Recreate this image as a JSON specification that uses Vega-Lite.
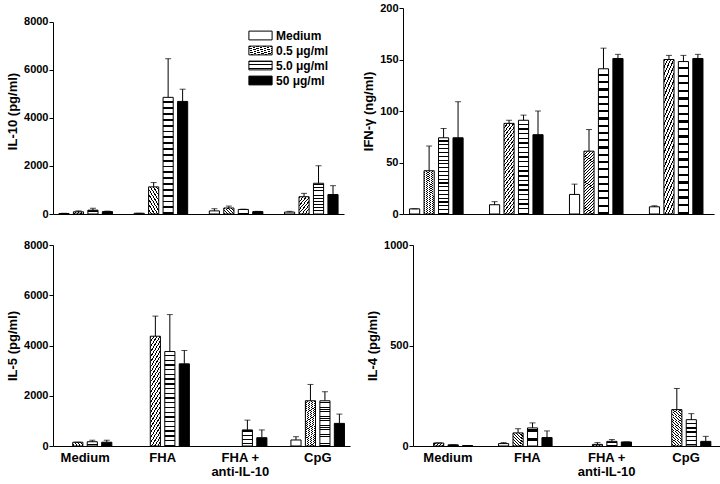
{
  "$schema": "https://vega.github.io/schema/vega-lite/v6.json",
  "padding": {"left": 6, "top": 2, "right": 0, "bottom": 0},
  "background": "white",
  "data": {"values": [
    {"panel":"IL-10","group":"Medium","conc":"Medium","value":20,"upper":30},
    {"panel":"IL-10","group":"Medium","conc":"0.5 μg/ml","value":90,"upper":130},
    {"panel":"IL-10","group":"Medium","conc":"5.0 μg/ml","value":160,"upper":240},
    {"panel":"IL-10","group":"Medium","conc":"50 μg/ml","value":100,"upper":120},
    {"panel":"IL-10","group":"FHA","conc":"Medium","value":30,"upper":30},
    {"panel":"IL-10","group":"FHA","conc":"0.5 μg/ml","value":1130,"upper":1310},
    {"panel":"IL-10","group":"FHA","conc":"5.0 μg/ml","value":4860,"upper":6470},
    {"panel":"IL-10","group":"FHA","conc":"50 μg/ml","value":4690,"upper":5200},
    {"panel":"IL-10","group":"FHA + anti-IL-10","conc":"Medium","value":130,"upper":220},
    {"panel":"IL-10","group":"FHA + anti-IL-10","conc":"0.5 μg/ml","value":250,"upper":330},
    {"panel":"IL-10","group":"FHA + anti-IL-10","conc":"5.0 μg/ml","value":190,"upper":200},
    {"panel":"IL-10","group":"FHA + anti-IL-10","conc":"50 μg/ml","value":100,"upper":110},
    {"panel":"IL-10","group":"CpG","conc":"Medium","value":80,"upper":110},
    {"panel":"IL-10","group":"CpG","conc":"0.5 μg/ml","value":720,"upper":860},
    {"panel":"IL-10","group":"CpG","conc":"5.0 μg/ml","value":1280,"upper":2010},
    {"panel":"IL-10","group":"CpG","conc":"50 μg/ml","value":810,"upper":1180},

    {"panel":"IFN","group":"Medium","conc":"Medium","value":5,"upper":5},
    {"panel":"IFN","group":"Medium","conc":"0.5 μg/ml","value":42,"upper":66},
    {"panel":"IFN","group":"Medium","conc":"5.0 μg/ml","value":74,"upper":83},
    {"panel":"IFN","group":"Medium","conc":"50 μg/ml","value":74,"upper":109},
    {"panel":"IFN","group":"FHA","conc":"Medium","value":9,"upper":12},
    {"panel":"IFN","group":"FHA","conc":"0.5 μg/ml","value":88,"upper":91},
    {"panel":"IFN","group":"FHA","conc":"5.0 μg/ml","value":91,"upper":96},
    {"panel":"IFN","group":"FHA","conc":"50 μg/ml","value":77,"upper":100},
    {"panel":"IFN","group":"FHA + anti-IL-10","conc":"Medium","value":19,"upper":29},
    {"panel":"IFN","group":"FHA + anti-IL-10","conc":"0.5 μg/ml","value":61,"upper":82},
    {"panel":"IFN","group":"FHA + anti-IL-10","conc":"5.0 μg/ml","value":141,"upper":161},
    {"panel":"IFN","group":"FHA + anti-IL-10","conc":"50 μg/ml","value":151,"upper":155},
    {"panel":"IFN","group":"CpG","conc":"Medium","value":7,"upper":8},
    {"panel":"IFN","group":"CpG","conc":"0.5 μg/ml","value":150,"upper":154},
    {"panel":"IFN","group":"CpG","conc":"5.0 μg/ml","value":148,"upper":154},
    {"panel":"IFN","group":"CpG","conc":"50 μg/ml","value":151,"upper":155},

    {"panel":"IL-5","group":"Medium","conc":"0.5 μg/ml","value":150,"upper":150},
    {"panel":"IL-5","group":"Medium","conc":"5.0 μg/ml","value":170,"upper":230},
    {"panel":"IL-5","group":"Medium","conc":"50 μg/ml","value":150,"upper":230},
    {"panel":"IL-5","group":"FHA","conc":"0.5 μg/ml","value":4370,"upper":5170},
    {"panel":"IL-5","group":"FHA","conc":"5.0 μg/ml","value":3760,"upper":5230},
    {"panel":"IL-5","group":"FHA","conc":"50 μg/ml","value":3270,"upper":3800},
    {"panel":"IL-5","group":"FHA + anti-IL-10","conc":"5.0 μg/ml","value":640,"upper":1030},
    {"panel":"IL-5","group":"FHA + anti-IL-10","conc":"50 μg/ml","value":330,"upper":640},
    {"panel":"IL-5","group":"CpG","conc":"Medium","value":240,"upper":370},
    {"panel":"IL-5","group":"CpG","conc":"0.5 μg/ml","value":1800,"upper":2450},
    {"panel":"IL-5","group":"CpG","conc":"5.0 μg/ml","value":1800,"upper":2160},
    {"panel":"IL-5","group":"CpG","conc":"50 μg/ml","value":900,"upper":1270},

    {"panel":"IL-4","group":"Medium","conc":"0.5 μg/ml","value":15,"upper":15},
    {"panel":"IL-4","group":"Medium","conc":"5.0 μg/ml","value":6,"upper":6},
    {"panel":"IL-4","group":"Medium","conc":"50 μg/ml","value":2,"upper":2},
    {"panel":"IL-4","group":"FHA","conc":"Medium","value":12,"upper":17},
    {"panel":"IL-4","group":"FHA","conc":"0.5 μg/ml","value":65,"upper":86},
    {"panel":"IL-4","group":"FHA","conc":"5.0 μg/ml","value":90,"upper":115},
    {"panel":"IL-4","group":"FHA","conc":"50 μg/ml","value":42,"upper":75},
    {"panel":"IL-4","group":"FHA + anti-IL-10","conc":"0.5 μg/ml","value":8,"upper":17},
    {"panel":"IL-4","group":"FHA + anti-IL-10","conc":"5.0 μg/ml","value":23,"upper":32},
    {"panel":"IL-4","group":"FHA + anti-IL-10","conc":"50 μg/ml","value":20,"upper":20},
    {"panel":"IL-4","group":"CpG","conc":"0.5 μg/ml","value":181,"upper":286},
    {"panel":"IL-4","group":"CpG","conc":"5.0 μg/ml","value":131,"upper":161},
    {"panel":"IL-4","group":"CpG","conc":"50 μg/ml","value":23,"upper":48}
  ]},
  "vconcat": [
    {
      "spacing": 18,
      "hconcat": [
        {
          "width": 291, "height": 206,
          "transform": [{"filter": "datum.panel === 'IL-10'"}],
          "encoding": {
            "x": {"field": "group", "type": "nominal", "scale": {"domain": ["Medium","FHA","FHA + anti-IL-10","CpG"], "paddingInner": 0.23, "paddingOuter": 0.05}, "axis": {"title": null, "labels": false, "ticks": false}},
            "xOffset": {"field": "conc", "type": "nominal", "scale": {"domain": ["Medium","0.5 μg/ml","5.0 μg/ml","50 μg/ml"], "paddingInner": 0.3, "paddingOuter": 0.15}}
          },
          "layer": [
            {
              "mark": {"type": "bar", "stroke": "#000", "strokeWidth": 1},
              "encoding": {
                "y": {"field": "value", "type": "quantitative", "title": "IL-10 (pg/ml)", "scale": {"domain": [0, 8583], "nice": false}, "axis": {"title": "IL-10 (pg/ml)", "format": "d", "values": [0,2000,4000,6000,8000], "domainDash": [192, 40]}},
                "fill": {"field": "conc", "type": "nominal",
                  "scale": {"domain": ["Medium","0.5 μg/ml","5.0 μg/ml","50 μg/ml"],
                    "range": ["#fff",
                      {"expr": "{gradient: 'linear', x1: 0, y1: 0, x2: 0.169, y2: 1.124, stops: [{offset:0,color:'#000'},{offset:0.014,color:'#000'},{offset:0.014,color:'#fff'},{offset:0.04,color:'#fff'},{offset:0.04,color:'#000'},{offset:0.054,color:'#000'},{offset:0.054,color:'#fff'},{offset:0.08,color:'#fff'},{offset:0.08,color:'#000'},{offset:0.094,color:'#000'},{offset:0.094,color:'#fff'},{offset:0.12,color:'#fff'},{offset:0.12,color:'#000'},{offset:0.134,color:'#000'},{offset:0.134,color:'#fff'},{offset:0.16,color:'#fff'},{offset:0.16,color:'#000'},{offset:0.174,color:'#000'},{offset:0.174,color:'#fff'},{offset:0.2,color:'#fff'},{offset:0.2,color:'#000'},{offset:0.214,color:'#000'},{offset:0.214,color:'#fff'},{offset:0.24,color:'#fff'},{offset:0.24,color:'#000'},{offset:0.254,color:'#000'},{offset:0.254,color:'#fff'},{offset:0.28,color:'#fff'},{offset:0.28,color:'#000'},{offset:0.294,color:'#000'},{offset:0.294,color:'#fff'},{offset:0.32,color:'#fff'},{offset:0.32,color:'#000'},{offset:0.334,color:'#000'},{offset:0.334,color:'#fff'},{offset:0.36,color:'#fff'},{offset:0.36,color:'#000'},{offset:0.374,color:'#000'},{offset:0.374,color:'#fff'},{offset:0.4,color:'#fff'},{offset:0.4,color:'#000'},{offset:0.414,color:'#000'},{offset:0.414,color:'#fff'},{offset:0.44,color:'#fff'},{offset:0.44,color:'#000'},{offset:0.454,color:'#000'},{offset:0.454,color:'#fff'},{offset:0.48,color:'#fff'},{offset:0.48,color:'#000'},{offset:0.494,color:'#000'},{offset:0.494,color:'#fff'},{offset:0.52,color:'#fff'},{offset:0.52,color:'#000'},{offset:0.534,color:'#000'},{offset:0.534,color:'#fff'},{offset:0.56,color:'#fff'},{offset:0.56,color:'#000'},{offset:0.574,color:'#000'},{offset:0.574,color:'#fff'},{offset:0.6,color:'#fff'},{offset:0.6,color:'#000'},{offset:0.614,color:'#000'},{offset:0.614,color:'#fff'},{offset:0.64,color:'#fff'},{offset:0.64,color:'#000'},{offset:0.654,color:'#000'},{offset:0.654,color:'#fff'},{offset:0.68,color:'#fff'},{offset:0.68,color:'#000'},{offset:0.694,color:'#000'},{offset:0.694,color:'#fff'},{offset:0.72,color:'#fff'},{offset:0.72,color:'#000'},{offset:0.734,color:'#000'},{offset:0.734,color:'#fff'},{offset:0.76,color:'#fff'},{offset:0.76,color:'#000'},{offset:0.774,color:'#000'},{offset:0.774,color:'#fff'},{offset:0.8,color:'#fff'},{offset:0.8,color:'#000'},{offset:0.814,color:'#000'},{offset:0.814,color:'#fff'},{offset:0.84,color:'#fff'},{offset:0.84,color:'#000'},{offset:0.854,color:'#000'},{offset:0.854,color:'#fff'},{offset:0.88,color:'#fff'},{offset:0.88,color:'#000'},{offset:0.894,color:'#000'},{offset:0.894,color:'#fff'},{offset:0.92,color:'#fff'},{offset:0.92,color:'#000'},{offset:0.934,color:'#000'},{offset:0.934,color:'#fff'},{offset:0.96,color:'#fff'},{offset:0.96,color:'#000'},{offset:0.974,color:'#000'},{offset:0.974,color:'#fff'},{offset:1,color:'#fff'}]}"},
                      {"expr": "{gradient: 'linear', x1: 0, y1: 0, x2: 0, y2: 1, stops: [{offset:0,color:'#fff'},{offset:0.035,color:'#fff'},{offset:0.035,color:'#000'},{offset:0.05,color:'#000'},{offset:0.05,color:'#fff'},{offset:0.085,color:'#fff'},{offset:0.085,color:'#000'},{offset:0.1,color:'#000'},{offset:0.1,color:'#fff'},{offset:0.135,color:'#fff'},{offset:0.135,color:'#000'},{offset:0.15,color:'#000'},{offset:0.15,color:'#fff'},{offset:0.185,color:'#fff'},{offset:0.185,color:'#000'},{offset:0.2,color:'#000'},{offset:0.2,color:'#fff'},{offset:0.235,color:'#fff'},{offset:0.235,color:'#000'},{offset:0.25,color:'#000'},{offset:0.25,color:'#fff'},{offset:0.285,color:'#fff'},{offset:0.285,color:'#000'},{offset:0.3,color:'#000'},{offset:0.3,color:'#fff'},{offset:0.335,color:'#fff'},{offset:0.335,color:'#000'},{offset:0.35,color:'#000'},{offset:0.35,color:'#fff'},{offset:0.385,color:'#fff'},{offset:0.385,color:'#000'},{offset:0.4,color:'#000'},{offset:0.4,color:'#fff'},{offset:0.435,color:'#fff'},{offset:0.435,color:'#000'},{offset:0.45,color:'#000'},{offset:0.45,color:'#fff'},{offset:0.485,color:'#fff'},{offset:0.485,color:'#000'},{offset:0.5,color:'#000'},{offset:0.5,color:'#fff'},{offset:0.535,color:'#fff'},{offset:0.535,color:'#000'},{offset:0.55,color:'#000'},{offset:0.55,color:'#fff'},{offset:0.585,color:'#fff'},{offset:0.585,color:'#000'},{offset:0.6,color:'#000'},{offset:0.6,color:'#fff'},{offset:0.635,color:'#fff'},{offset:0.635,color:'#000'},{offset:0.65,color:'#000'},{offset:0.65,color:'#fff'},{offset:0.685,color:'#fff'},{offset:0.685,color:'#000'},{offset:0.7,color:'#000'},{offset:0.7,color:'#fff'},{offset:0.735,color:'#fff'},{offset:0.735,color:'#000'},{offset:0.75,color:'#000'},{offset:0.75,color:'#fff'},{offset:0.785,color:'#fff'},{offset:0.785,color:'#000'},{offset:0.8,color:'#000'},{offset:0.8,color:'#fff'},{offset:0.835,color:'#fff'},{offset:0.835,color:'#000'},{offset:0.85,color:'#000'},{offset:0.85,color:'#fff'},{offset:0.885,color:'#fff'},{offset:0.885,color:'#000'},{offset:0.9,color:'#000'},{offset:0.9,color:'#fff'},{offset:0.935,color:'#fff'},{offset:0.935,color:'#000'},{offset:0.95,color:'#000'},{offset:0.95,color:'#fff'},{offset:0.985,color:'#fff'},{offset:0.985,color:'#000'},{offset:1,color:'#000'}]}"},
                      "#000"]},
                  "legend": {"orient": "none", "legendX": 199, "legendY": 19, "title": null,
                    "symbolType": "M-1.45,-0.55H1.45V0.55H-1.45Z", "symbolSize": 256,
                    "symbolStrokeColor": "#000", "symbolStrokeWidth": 1, "symbolOpacity": 1,
                    "labelFontSize": 12, "labelFontWeight": "bold", "labelColor": "#000", "labelOffset": 7, "rowPadding": 0}}
              }
            },
            {
              "mark": {"type": "rule", "color": "#000", "strokeWidth": 1},
              "encoding": {"y": {"field": "value", "type": "quantitative", "title": "IL-10 (pg/ml)", "scale": {"domain": [0, 8583], "nice": false}}, "y2": {"field": "upper"}}
            },
            {
              "mark": {"type": "tick", "color": "#000", "thickness": 1, "size": 6},
              "encoding": {"y": {"field": "upper", "type": "quantitative", "title": "IL-10 (pg/ml)", "scale": {"domain": [0, 8583], "nice": false}}}
            }
          ]
        },
        {
          "width": 311, "height": 206,
          "transform": [{"filter": "datum.panel === 'IFN'"}],
          "encoding": {
            "x": {"field": "group", "type": "nominal", "scale": {"domain": ["Medium","FHA","FHA + anti-IL-10","CpG"], "paddingInner": 0.22, "paddingOuter": 0.055}, "axis": {"title": null, "labels": false, "ticks": false}},
            "xOffset": {"field": "conc", "type": "nominal", "scale": {"domain": ["Medium","0.5 μg/ml","5.0 μg/ml","50 μg/ml"], "paddingInner": 0.3, "paddingOuter": 0.15}}
          },
          "layer": [
            {
              "mark": {"type": "bar", "stroke": "#000", "strokeWidth": 1},
              "encoding": {
                "y": {"field": "value", "type": "quantitative", "title": "IFN-γ (ng/ml)", "scale": {"domain": [0, 200], "nice": false}, "axis": {"title": "IFN-γ (ng/ml)", "format": "d", "values": [0,25,50,75,100,125,150,175,200]}},
                "fill": {"field": "conc", "type": "nominal", "scale": {"domain": ["Medium","0.5 μg/ml","5.0 μg/ml","50 μg/ml"]}, "legend": null}
              }
            },
            {
              "mark": {"type": "rule", "color": "#000", "strokeWidth": 1},
              "encoding": {"y": {"field": "value", "type": "quantitative", "title": "IFN-γ (ng/ml)", "scale": {"domain": [0, 200], "nice": false}}, "y2": {"field": "upper"}}
            },
            {
              "mark": {"type": "tick", "color": "#000", "thickness": 1, "size": 6},
              "encoding": {"y": {"field": "upper", "type": "quantitative", "title": "IFN-γ (ng/ml)", "scale": {"domain": [0, 200], "nice": false}}}
            }
          ]
        }
      ]
    },
    {
      "spacing": 16,
      "hconcat": [
        {
          "width": 297, "height": 201,
          "transform": [{"filter": "datum.panel === 'IL-5'"}],
          "encoding": {
            "x": {"field": "group", "type": "nominal", "scale": {"domain": ["Medium","FHA","FHA + anti-IL-10","CpG"], "paddingInner": 0.25, "paddingOuter": 0.04}, "axis": {"title": null, "ticks": false, "labelExpr": "datum.label == 'FHA + anti-IL-10' ? ['FHA +', 'anti-IL-10'] : datum.label"}},
            "xOffset": {"field": "conc", "type": "nominal", "scale": {"domain": ["Medium","0.5 μg/ml","5.0 μg/ml","50 μg/ml"], "paddingInner": 0.3, "paddingOuter": 0.15}}
          },
          "layer": [
            {
              "mark": {"type": "bar", "stroke": "#000", "strokeWidth": 1},
              "encoding": {
                "y": {"field": "value", "type": "quantitative", "title": "IL-5 (pg/ml)", "scale": {"domain": [0, 8000], "nice": false}, "axis": {"title": "IL-5 (pg/ml)", "format": "d", "values": [0,2000,4000,6000,8000]}},
                "fill": {"field": "conc", "type": "nominal", "scale": {"domain": ["Medium","0.5 μg/ml","5.0 μg/ml","50 μg/ml"]}, "legend": null}
              }
            },
            {
              "mark": {"type": "rule", "color": "#000", "strokeWidth": 1},
              "encoding": {"y": {"field": "value", "type": "quantitative", "title": "IL-5 (pg/ml)", "scale": {"domain": [0, 8000], "nice": false}}, "y2": {"field": "upper"}}
            },
            {
              "mark": {"type": "tick", "color": "#000", "thickness": 1, "size": 6},
              "encoding": {"y": {"field": "upper", "type": "quantitative", "title": "IL-5 (pg/ml)", "scale": {"domain": [0, 8000], "nice": false}}}
            }
          ]
        },
        {
          "width": 308, "height": 201,
          "transform": [{"filter": "datum.panel === 'IL-4'"}],
          "encoding": {
            "x": {"field": "group", "type": "nominal", "scale": {"domain": ["Medium","FHA","FHA + anti-IL-10","CpG"], "paddingInner": 0.22, "paddingOuter": 0.05}, "axis": {"title": null, "ticks": false, "labelExpr": "datum.label == 'FHA + anti-IL-10' ? ['FHA +', 'anti-IL-10'] : datum.label"}},
            "xOffset": {"field": "conc", "type": "nominal", "scale": {"domain": ["Medium","0.5 μg/ml","5.0 μg/ml","50 μg/ml"], "paddingInner": 0.3, "paddingOuter": 0.15}}
          },
          "layer": [
            {
              "mark": {"type": "bar", "stroke": "#000", "strokeWidth": 1},
              "encoding": {
                "y": {"field": "value", "type": "quantitative", "title": "IL-4 (pg/ml)", "scale": {"domain": [0, 1000], "nice": false}, "axis": {"title": "IL-4 (pg/ml)", "format": "d", "values": [0,500,1000]}},
                "fill": {"field": "conc", "type": "nominal", "scale": {"domain": ["Medium","0.5 μg/ml","5.0 μg/ml","50 μg/ml"]}, "legend": null}
              }
            },
            {
              "mark": {"type": "rule", "color": "#000", "strokeWidth": 1},
              "encoding": {"y": {"field": "value", "type": "quantitative", "title": "IL-4 (pg/ml)", "scale": {"domain": [0, 1000], "nice": false}}, "y2": {"field": "upper"}}
            },
            {
              "mark": {"type": "tick", "color": "#000", "thickness": 1, "size": 6},
              "encoding": {"y": {"field": "upper", "type": "quantitative", "title": "IL-4 (pg/ml)", "scale": {"domain": [0, 1000], "nice": false}}}
            }
          ]
        }
      ]
    }
  ],
  "spacing": 20,
  "config": {
    "font": "Liberation Sans",
    "view": {"stroke": null},
    "axis": {"grid": false, "domainColor": "#000", "tickColor": "#000", "labelColor": "#000", "titleColor": "#000",
      "labelFontWeight": "bold", "titleFontWeight": "bold", "labelFontSize": 11, "titleFontSize": 13,
      "tickSize": 4, "labelPadding": 1, "titlePadding": 4, "domainWidth": 1, "tickWidth": 1},
    "axisX": {"labelFontSize": 13, "labelPadding": 5, "labelLineHeight": 14, "labelAngle": 0}
  }
}
